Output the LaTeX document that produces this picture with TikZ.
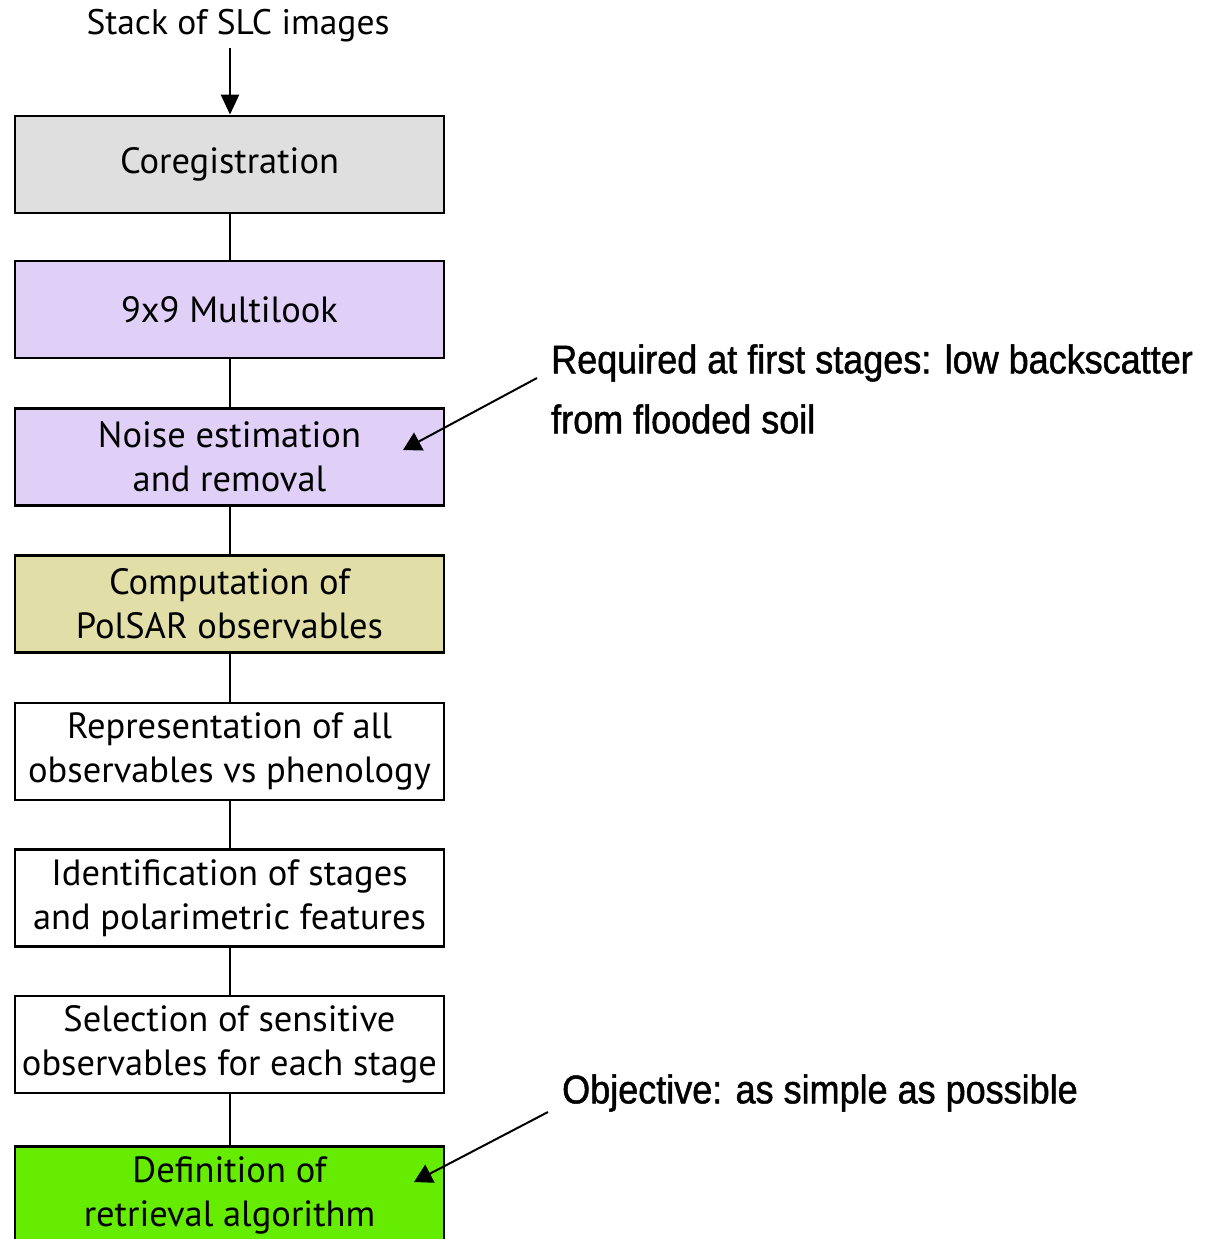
\documentclass[tikz,border=0pt]{standalone}
\usepackage{fontspec}
\setmainfont{PT Sans}
\newfontfamily\annfont[FakeStretch=0.9,FakeBold=1.2]{Liberation Sans}
\usetikzlibrary{arrows.meta}
\definecolor{cgray}{RGB}{224,223,224}
\definecolor{cpurple}{RGB}{224,208,247}
\definecolor{ckhaki}{RGB}{225,222,168}
\definecolor{cgreen}{RGB}{102,236,0}
\tikzset{
  procbox/.style={draw=black, line width=2.8pt, minimum width=429pt, minimum height=97pt,
    align=center, inner sep=0pt, font=\fontsize{36.5}{44}\selectfont},
  link/.style={line width=2.5pt},
  pointer/.style={line width=2pt, -{Triangle[length=18pt,width=20pt]}},
  anntext/.style={font=\annfont\fontsize{40}{60}\selectfont, align=left, anchor=west, inner sep=0pt}
}
\begin{document}
\begin{tikzpicture}[x=1pt,y=-1pt]
\useasboundingbox (0,0) rectangle (1220,1239);
\clip (0,0) rectangle (1220,1239);
\node[font=\fontsize{35.5}{44}\selectfont, inner sep=0pt] (stack) at (238,26) {Stack of SLC images};
\node[procbox, fill=cgray] (b1) at (229.5,164.5) {Coregistration};
\node[procbox, fill=cpurple] (b2) at (229.5,309.5) {9x9 Multilook};
\node[procbox, fill=cpurple] (b3) at (229.5,457) {Noise estimation\\and removal};
\node[procbox, fill=ckhaki] (b4) at (229.5,604) {Computation of\\PolSAR observables};
\node[procbox, fill=white] (b5) at (229.5,751.5) {Representation of all\\observables vs phenology};
\node[procbox, fill=white] (b6) at (229.5,898) {Identification of stages\\and polarimetric features};
\node[procbox, fill=white] (b7) at (229.5,1044.5) {Selection of sensitive\\observables for each stage};
\node[procbox, fill=cgreen] (b8) at (229.5,1195) {Definition of\\retrieval algorithm};
\coordinate (stackend) at (230,48);
\draw[line width=2.5pt, -{Triangle[length=20pt,width=18pt]}] (stackend) -- (b1.north -| stackend);
\draw[link] (b1.south -| 230,0) -- (b2.north -| 230,0);
\draw[link] (b2.south -| 230,0) -- (b3.north -| 230,0);
\draw[link] (b3.south -| 230,0) -- (b4.north -| 230,0);
\draw[link] (b4.south -| 230,0) -- (b5.north -| 230,0);
\draw[link] (b5.south -| 230,0) -- (b6.north -| 230,0);
\draw[link] (b6.south -| 230,0) -- (b7.north -| 230,0);
\draw[link] (b7.south -| 230,0) -- (b8.north -| 230,0);
\node[anntext] (a1) at (551,389) {Required at first stages: low backscatter\\from flooded soil};
\node[anntext] (a2) at (562,1093) {Objective: as simple as possible};
\coordinate (a1s) at (537,378);
\coordinate (a1e) at (403,450);
\coordinate (a2s) at (548,1112);
\coordinate (a2e) at (414,1182);
\draw[pointer] (a1s) -- (a1e);
\draw[pointer] (a2s) -- (a2e);
\end{tikzpicture}
\end{document}
